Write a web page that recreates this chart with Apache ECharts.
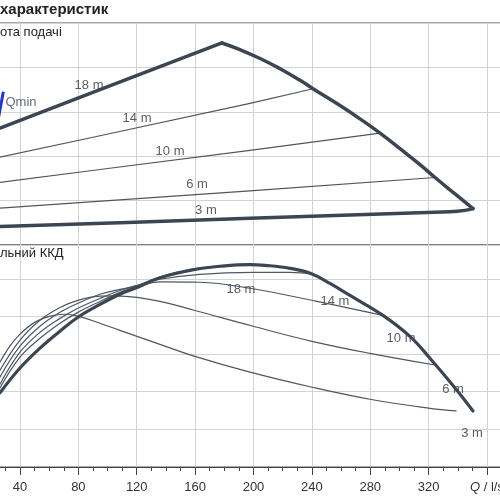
<!DOCTYPE html>
<html>
<head>
<meta charset="utf-8">
<script src="https://cdn.jsdelivr.net/npm/echarts@6/dist/echarts.min.js"></script>
<style>
  html, body { margin: 0; padding: 0; background: #fff; overflow: hidden; }
  #chart { width: 500px; height: 500px; }
</style>
</head>
<body>
<div id="chart"></div>
<script>
// верхня панель: висота подачі, [Q, H]
var head18 = [[22, 25.8], [94.8, 35.0], [178.4, 45.5]];
var head14 = [[22, 19.5], [94.8, 24.6], [197.6, 31.9], [240.8, 35.2]];
var head10 = [[22, 13.9], [94.8, 17.0], [197.6, 21.3], [286.7, 25.2]];
var head6 = [[22, 8.2], [197.6, 12.2], [324.4, 15.2]];
var head3 = [[22, 4.1], [197.6, 6.0], [334.6, 7.5], [344.9, 7.8], [350.4, 8.2]];
var headMax = [[178.4, 45.5], [190.7, 44.0], [204.5, 42.0], [218.2, 39.7], [231.9, 37.1],
  [240.8, 35.2], [259.3, 31.4], [273.0, 28.4], [286.7, 25.2], [300.4, 21.7], [314.1, 18.1],
  [324.4, 15.2], [338.1, 11.5], [350.4, 8.2]];
var qmin = [[28.6, 34.5], [25.2, 28.6]];

// нижня панель: загальний ККД, [Q, eta]
var effMax = [[26.3, 19.7], [40, 26.3], [53.7, 31.6], [67.4, 36.1], [79.7, 39.8],
  [94.8, 43.2], [108.5, 45.9], [120.2, 47.7], [135.9, 50.3], [159.9, 52.5], [178.4, 53.4],
  [197.6, 53.8], [207.9, 53.6], [225, 52.8], [240.1, 51.3], [252.4, 48.8], [266.1, 45.6],
  [288.7, 40.3], [307.2, 34.7], [320.9, 28.9], [338.1, 21.0], [350.4, 14.9]];
var eff18 = [[26.3, 21.0], [40, 29.2], [53.7, 34.2], [67.4, 38.2], [79.7, 41.1],
  [94.8, 44.0], [108.5, 46.4], [120.2, 48.1], [135.9, 50.5], [156.5, 52.5], [178.4, 53.4]];
var eff14 = [[26.3, 22.0], [40, 30.5], [53.7, 35.8], [67.4, 39.5], [79.7, 42.2],
  [94.8, 44.8], [108.5, 46.9], [120.2, 48.3], [135.9, 49.9], [163.3, 51.2], [199.7, 51.7],
  [225, 51.7], [240.1, 51.3]];
var eff10 = [[26.3, 23.9], [40, 32.1], [53.7, 37.4], [67.4, 41.1], [79.7, 43.5],
  [94.8, 45.9], [108.5, 47.2], [120.2, 48.0], [135.9, 49.2], [163.3, 49.1], [197.6, 47.5],
  [243.5, 44.0], [288.7, 40.3]];
var eff6 = [[26.3, 25.7], [40, 33.7], [53.7, 39.0], [67.4, 42.4], [79.7, 44.3],
  [94.8, 45.4], [105.1, 45.5], [120.2, 45.1], [135.9, 44.0], [159.9, 41.6], [199.7, 37.4],
  [240.1, 33.4], [279.8, 30.2], [324.4, 27.1]];
var eff3 = [[26.3, 27.9], [33.1, 32.1], [40, 35.3], [50.3, 38.5], [60.6, 40.1],
  [70.8, 40.6], [79.7, 40.1], [94.8, 38.2], [108.5, 36.3], [120.2, 34.7], [135.9, 32.6],
  [159.9, 29.4], [197.6, 25.2], [240.1, 21.2], [279.8, 18.0], [320.9, 15.6], [338.8, 14.9]];

// підписи кривих
var curveNames = ['18 m', '14 m', '10 m', '6 m', '3 m'];
var headLabelQ = [87.3, 120.2, 142.8, 161.3, 167.4];
var headLabelH = [36.0, 28.6, 21.1, 13.7, 7.9];
var effLabelQ = [191.4, 255.8, 301.1, 336.7, 349.7];
var effLabelE = [47.2, 44.0, 34.2, 20.7, 8.8];
var qminLabel = [[29.7, 32.0]];

var qAxisName = 'Q / l/s';
var qTickStep = 40;

var font = "'Liberation Sans', Arial, sans-serif";
var lineColor = '#3c4652';
var thinColor = '#4c5763';

function curve(data, g, w, smooth) {
  return {
    type: 'line', xAxisIndex: g, yAxisIndex: g, data: data,
    symbol: 'none', smooth: smooth, silent: true,
    lineStyle: { color: w > 2 ? lineColor : thinColor, width: w, cap: 'round', join: 'round' }
  };
}

function labels(names, q, v, g) {
  return {
    type: 'scatter', xAxisIndex: g, yAxisIndex: g, symbolSize: 1, silent: true,
    itemStyle: { color: 'rgba(0,0,0,0)' },
    data: names.map(function (n, i) { return { name: n, value: [q[i], v[i]] }; }),
    label: { show: true, position: 'inside', formatter: '{b}', fontSize: 13, color: '#333', fontFamily: font }
  };
}

var myChart = echarts.init(document.getElementById('chart'));

var gridLine = { show: true, lineStyle: { color: '#d3d3d3', width: 1 } };

var option = {
  animation: false,
  title: [
    { text: 'характеристик', left: 0, top: 2, padding: 0,
      textStyle: { fontSize: 15, fontWeight: 'bold', color: '#222', fontFamily: font } },
    { text: 'ота подачі', left: 0, top: 26, padding: 0,
      textStyle: { fontSize: 13, fontWeight: 'normal', color: '#222', fontFamily: font } },
    { text: 'льний ККД', left: 0, top: 247, padding: 0,
      textStyle: { fontSize: 13, fontWeight: 'normal', color: '#222', fontFamily: font } }
  ],
  grid: [
    { left: -38.4, right: -16.2, top: 23, height: 222, show: true, borderColor: '#555', borderWidth: 1.2, outerBoundsMode: 'none' },
    { left: -38.4, right: -16.2, top: 245, height: 222, show: true, borderColor: '#555', borderWidth: 1.2, outerBoundsMode: 'none' }
  ],
  xAxis: [
    { type: 'value', gridIndex: 0, min: 0, max: 380, interval: qTickStep,
      axisLine: { show: false }, axisTick: { show: false }, axisLabel: { show: false },
      splitLine: gridLine },
    { type: 'value', gridIndex: 1, min: 0, max: 380, interval: qTickStep,
      axisLine: { show: true, onZero: false, lineStyle: { color: '#444', width: 1.2 } },
      axisTick: { show: true, length: 8, lineStyle: { color: '#444' } },
      minorTick: { show: true, splitNumber: 4, length: 4, lineStyle: { color: '#444' } },
      axisLabel: {
        margin: 14, fontSize: 13, color: '#333', fontFamily: font,
        formatter: function (v) {
          if (v === 360) return '{q|' + qAxisName.charAt(0) + '}' + qAxisName.slice(1);
          if (v <= 0 || v > 360) return '';
          return String(v);
        },
        rich: { q: { fontStyle: 'italic', fontSize: 13, color: '#333', fontFamily: font } }
      },
      splitLine: gridLine }
  ],
  yAxis: [
    { type: 'value', gridIndex: 0, min: 0, max: 50, interval: 10,
      axisLine: { show: false }, axisTick: { show: false }, axisLabel: { show: false },
      splitLine: gridLine },
    { type: 'value', gridIndex: 1, min: 0, max: 59, interval: 10,
      axisLine: { show: false }, axisTick: { show: false }, axisLabel: { show: false },
      splitLine: gridLine }
  ],
  series: [
    curve(head14, 0, 1.2, false),
    curve(head10, 0, 1.2, false),
    curve(head6, 0, 1.2, false),
    curve(head18, 0, 3.5, false),
    curve(headMax, 0, 3.5, true),
    curve(head3, 0, 3.5, 0.2),
    {
      type: 'line', xAxisIndex: 0, yAxisIndex: 0, data: qmin, symbol: 'none', silent: true,
      lineStyle: { color: '#1f33d8', width: 3 }
    },
    {
      type: 'scatter', xAxisIndex: 0, yAxisIndex: 0, symbolSize: 1, silent: true,
      itemStyle: { color: 'rgba(0,0,0,0)' },
      data: qminLabel,
      label: { show: true, position: 'right', distance: 0, formatter: 'Qmin', fontSize: 13, color: '#3a4756', fontFamily: font }
    },
    labels(curveNames, headLabelQ, headLabelH, 0),

    curve(eff18, 1, 1.2, 0.4),
    curve(eff14, 1, 1.2, 0.4),
    curve(eff10, 1, 1.2, 0.4),
    curve(eff6, 1, 1.2, 0.4),
    curve(eff3, 1, 1.2, 0.4),
    curve(effMax, 1, 3.2, 0.4),
    labels(curveNames, effLabelQ, effLabelE, 1)
  ]
};

myChart.setOption(option);
</script>
</body>
</html>
